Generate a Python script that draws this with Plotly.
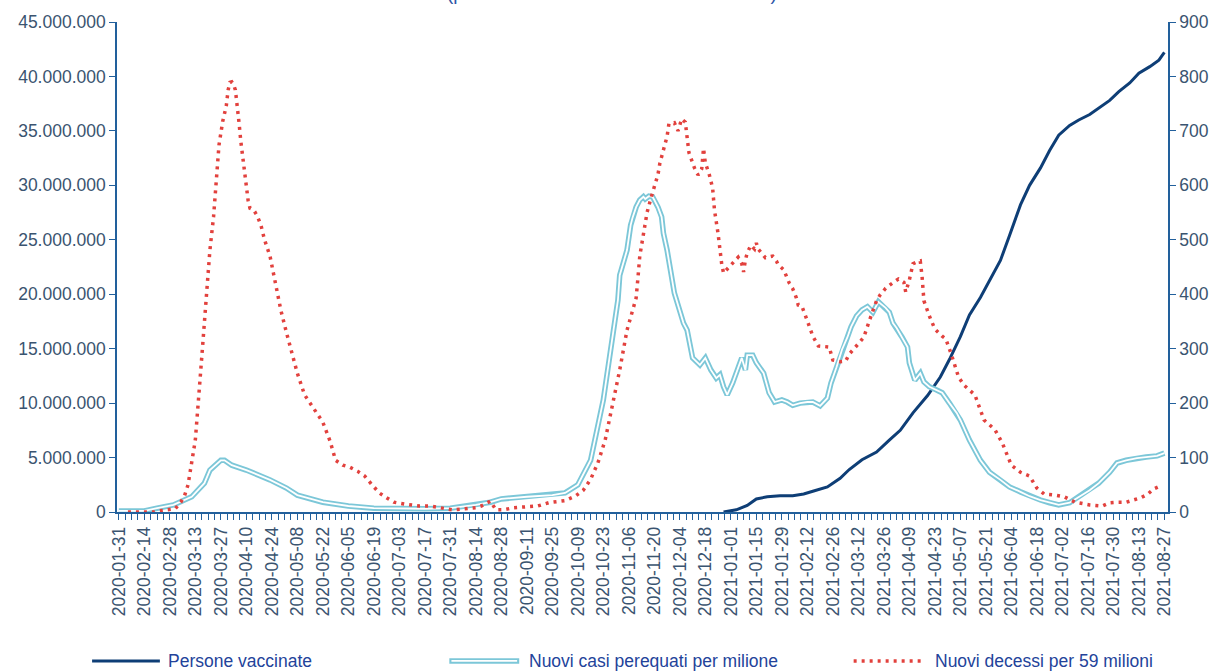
import plotly.graph_objects as go
import pandas as pd

START = "2020-01-31"

# Persone vaccinate (milioni) - giorni dal 2020-01-31
giorni_vacc = [332, 339, 345, 350, 356, 363, 370, 376, 381, 389, 396, 401, 408, 416, 423, 429,
               436, 444, 451, 456, 462, 467, 473, 478, 484, 489, 495, 500, 506, 511, 516, 522,
               527, 533, 538, 544, 549, 555, 560, 566, 571, 574]
vaccinati_mln = [0, 0.2, 0.6, 1.2, 1.4, 1.5, 1.5, 1.65, 1.9, 2.3, 3.1, 3.9, 4.8, 5.5, 6.6, 7.5,
                 9.1, 10.7, 12.4, 14.0, 16.1, 18.1, 19.7, 21.3, 23.1, 25.4, 28.2, 30.0, 31.6, 33.2, 34.6, 35.5,
                 36.0, 36.5, 37.1, 37.8, 38.6, 39.4, 40.3, 40.9, 41.5, 42.2]

# Nuovi casi perequati per milione
giorni_casi = [0, 14, 21, 30, 40, 47, 50, 54, 56, 58, 62, 70, 77, 83, 92, 98, 112, 126, 140, 154,
               168, 182, 196, 204, 210, 224, 238, 245, 252, 259, 266, 270, 274, 275, 277, 279, 281, 282,
               284, 286, 288, 289, 291, 293, 294, 296, 298, 299, 301, 303, 305, 310, 312, 315, 319, 322,
               325, 328, 330, 332, 334, 337, 339, 342, 344, 345, 348, 350, 354, 357, 360, 364, 367, 370,
               374, 378, 381, 385, 389, 391, 394, 397, 400, 402, 405, 408, 411, 414, 417, 419, 421, 423,
               425, 427, 430, 433, 434, 437, 440, 442, 445, 449, 452, 456, 460, 462, 467, 473, 478, 484,
               489, 495, 500, 506, 511, 516, 522, 527, 533, 538, 544, 548, 553, 559, 564, 570, 574]
casi = [2, 2, 7, 13, 28, 53, 77, 90, 95, 95, 86, 77, 68, 59, 44, 31, 18, 11, 7, 6,
        6, 7, 13, 18, 24, 28, 31, 35, 50, 95, 206, 298, 389, 435, 457, 481, 527, 540,
        560, 573, 579, 575, 580, 579, 573, 560, 542, 512, 481, 439, 402, 347, 334, 283, 270, 283,
        261, 246, 252, 230, 215, 237, 257, 283, 261, 288, 288, 274, 255, 219, 202, 206, 202, 196,
        200, 202, 202, 195, 209, 237, 266, 298, 321, 340, 360, 371, 377, 367, 386, 380, 375, 367,
        347, 338, 321, 303, 274, 242, 255, 239, 230, 224, 219, 200, 182, 169, 132, 95, 73, 59,
        46, 37, 29, 22, 17, 13, 17, 28, 40, 53, 73, 90, 95, 99, 101, 103, 108]

# Nuovi decessi per 59 milioni
giorni_decessi = [5, 19, 22, 27, 31, 34, 36, 38, 40, 42, 45, 48, 50, 52, 53, 54, 55, 57, 59, 60,
                  61, 62, 63, 64, 65, 66, 67, 68, 69, 70, 71, 72, 74, 76, 78, 80, 83, 86, 89, 92,
                  95, 98, 102, 107, 112, 116, 119, 123, 127, 131, 135, 139, 143, 147, 151, 158, 165, 171,
                  177, 183, 190, 196, 199, 204, 207, 211, 217, 224, 230, 236, 245, 251, 255, 259, 263, 267,
                  271, 275, 279, 284, 285, 286, 288, 290, 292, 294, 296, 297, 299, 301, 302, 305, 307, 309,
                  311, 312, 313, 316, 318, 320, 321, 322, 324, 326, 327, 329, 330, 331, 332, 334, 337, 340,
                  342, 343, 344, 345, 347, 349, 350, 351, 355, 359, 361, 362, 365, 367, 368, 370, 372, 373,
                  375, 378, 381, 384, 390, 392, 396, 399, 401, 406, 409, 412, 416, 418, 421, 425, 428, 431,
                  432, 434, 436, 438, 440, 441, 442, 445, 448, 452, 454, 457, 461, 464, 470, 475, 481, 485,
                  490, 495, 500, 504, 508, 514, 519, 525, 533, 540, 544, 548, 553, 557, 561, 565, 568, 572]
decessi = [0, 0, 2, 4, 6, 18, 29, 50, 90, 132, 261, 400, 481, 542, 585, 630, 674, 717, 746, 775,
           789, 790, 785, 775, 750, 715, 680, 650, 620, 595, 572, 558, 555, 544, 527, 500, 470, 420, 370, 330,
           290, 255, 215, 190, 165, 130, 95, 86, 82, 75, 66, 50, 35, 26, 18, 14, 11, 11,
           8, 4, 6, 8, 11, 20, 4, 4, 8, 9, 11, 17, 21, 30, 40, 60, 90, 132,
           197, 261, 334, 393, 430, 470, 510, 550, 575, 598, 620, 640, 665, 690, 713, 715, 700, 722,
           716, 690, 660, 632, 619, 630, 668, 641, 622, 595, 555, 511, 481, 455, 439, 446, 456, 468,
           456, 441, 463, 476, 490, 483, 494, 483, 467, 470, 461, 454, 445, 430, 421, 410, 393, 380,
           378, 351, 323, 305, 303, 279, 276, 277, 290, 309, 321, 351, 388, 399, 411, 421, 428, 422,
           404, 426, 456, 459, 461, 432, 388, 360, 336, 323, 318, 290, 248, 233, 215, 169, 151, 127,
           86, 73, 66, 44, 33, 31, 28, 18, 13, 11, 17, 18, 18, 22, 26, 33, 42, 48]

legend_labels = ["Persone vaccinate", "Nuovi casi perequati per milione", "Nuovi decessi per 59 milioni"]
title_text = "(persone vaccinate sull'asse di sinistra)"


def to_dates(days):
    return (pd.Timestamp(START) + pd.to_timedelta(days, unit="D")).strftime("%Y-%m-%d").tolist()


NAVY = "#0E3E76"
CYAN = "#7CC7D8"
RED = "#E2413D"
AXIS = "#22609C"
TICKTXT = "#3A5470"
LEGTXT = "#23439A"
FONT = "Liberation Sans, Arial, sans-serif"
DAY = 86400000

fig = go.Figure()
fig.add_trace(go.Scatter(x=to_dates(giorni_vacc), y=[v * 1e6 for v in vaccinati_mln],
                         mode="lines", line=dict(color=NAVY, width=3), yaxis="y",
                         name=legend_labels[0], hoverinfo="skip"))
fig.add_trace(go.Scatter(x=to_dates(giorni_casi), y=casi, mode="lines",
                         line=dict(color=CYAN, width=5.5), yaxis="y2",
                         name=legend_labels[1], hoverinfo="skip"))
fig.add_trace(go.Scatter(x=to_dates(giorni_casi), y=casi, mode="lines",
                         line=dict(color="white", width=1.8), yaxis="y2",
                         showlegend=False, hoverinfo="skip"))
fig.add_trace(go.Scatter(x=to_dates(giorni_decessi), y=decessi, mode="lines",
                         line=dict(color=RED, width=3.5, dash="3px,5px"), yaxis="y2",
                         name=legend_labels[2], hoverinfo="skip"))

axis_common = dict(showline=True, linecolor=AXIS, linewidth=1.5, ticks="outside", ticklen=6,
                   tickcolor=AXIS, tickwidth=1.2, showgrid=False, zeroline=False,
                   tickfont=dict(family=FONT, size=17.5, color=TICKTXT))

fig.update_layout(
    width=1221, height=672,
    margin=dict(l=117, r=51, t=22, b=160),
    paper_bgcolor="white", plot_bgcolor="white",
    separators=",.",
    showlegend=False,
    xaxis=dict(type="date", range=["2020-01-30", "2021-08-29"], tick0=START, dtick=14 * DAY,
               tickformat="%Y-%m-%d", tickangle=-90,
               minor=dict(ticks="outside", ticklen=6, tickcolor=AXIS, dtick=3.5 * DAY, tick0=START,
                          showgrid=False),
               **axis_common),
    yaxis=dict(range=[0, 45e6], dtick=5e6, tickformat=",d", **axis_common),
    yaxis2=dict(range=[0, 900], dtick=100, overlaying="y", side="right", **axis_common),
)

# Titolo (tagliato in alto come nell'originale)
fig.add_annotation(xref="paper", yref="paper", x=0.471, y=1.0327, xanchor="center", yanchor="bottom",
                   text=title_text, showarrow=False,
                   font=dict(family=FONT, size=19, color="#2F56A6"))

# Legenda personalizzata in basso
ly = -0.304
items = [(-0.0237, 0.0408, 0.0465), (0.3162, 0.3827, 0.3903), (0.7009, 0.7673, 0.7768)]
fig.add_shape(type="line", xref="paper", yref="paper", x0=items[0][0], x1=items[0][1], y0=ly, y1=ly,
              line=dict(color=NAVY, width=3))
fig.add_shape(type="line", xref="paper", yref="paper", x0=items[1][0], x1=items[1][1], y0=ly, y1=ly,
              line=dict(color=CYAN, width=5.5))
fig.add_shape(type="line", xref="paper", yref="paper", x0=items[1][0] + 0.002, x1=items[1][1] - 0.002,
              y0=ly, y1=ly, line=dict(color="white", width=1.8))
fig.add_shape(type="line", xref="paper", yref="paper", x0=items[2][0], x1=items[2][1], y0=ly, y1=ly,
              line=dict(color=RED, width=3.5, dash="3px,5px"))
for (x0, x1, xt), lab in zip(items, legend_labels):
    fig.add_annotation(xref="paper", yref="paper", x=xt, y=ly, xanchor="left", yanchor="middle",
                       text=lab, showarrow=False, font=dict(family=FONT, size=17.5, color=LEGTXT))

fig.write_html("out.html", config={"displayModeBar": False},
               post_script="document.body.style.margin='0';document.body.style.overflow='hidden';")
